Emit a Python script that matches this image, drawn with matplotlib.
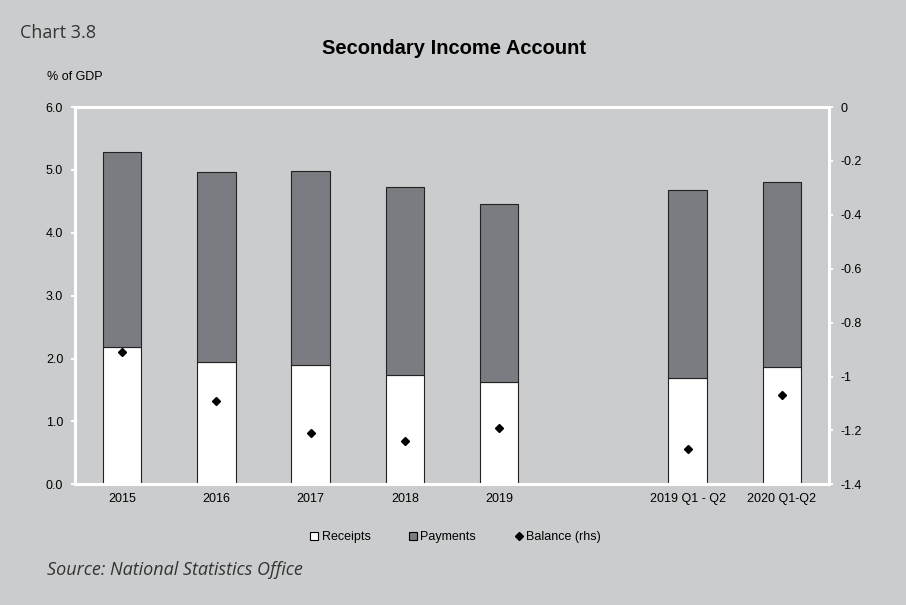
import matplotlib
matplotlib.use("Agg")
import matplotlib.pyplot as plt
from matplotlib.lines import Line2D
import numpy as np

categories = ["2015", "2016", "2017", "2018", "2019", "", "2019 Q1 - Q2", "2020 Q1-Q2"]
receipts = [2.18, 1.94, 1.89, 1.74, 1.62, None, 1.69, 1.87]
payments = [3.10, 3.02, 3.10, 2.98, 2.83, None, 2.99, 2.94]
balance = [-0.91, -1.09, -1.21, -1.24, -1.19, None, -1.27, -1.07]

left_ticks = [0.0, 1.0, 2.0, 3.0, 4.0, 5.0, 6.0]
right_ticks = [0, -0.2, -0.4, -0.6, -0.8, -1, -1.2, -1.4]

BG = "#cbcccd"
PAY = "#7b7c81"
plt.rcParams['font.family'] = ['Liberation Sans', 'DejaVu Sans']

fig = plt.figure(figsize=(9.06, 6.05), dpi=100, facecolor=BG)
ax = fig.add_axes([75/906, 1-484.3/605, (829-75)/906, (484.3-107)/605])
ax.set_facecolor(BG)

idx = [i for i, r in enumerate(receipts) if r is not None]
x = np.array(idx)
rec = np.array([receipts[i] for i in idx])
pay = np.array([payments[i] for i in idx])
bal = np.array([balance[i] for i in idx])

w = 0.41
ax.bar(x, rec, w, color="white", edgecolor="#222222", linewidth=0.8, zorder=2)
ax.bar(x, pay, w, bottom=rec, color=PAY, edgecolor="#222222", linewidth=0.8, zorder=2)

ax.set_xlim(-0.5, len(categories) - 0.5)
ax.set_ylim(0, 6)
ax.set_yticks(left_ticks)
ax.set_yticklabels([f"{t:.1f}" for t in left_ticks])
ax.set_xticks(range(len(categories)))
ax.set_xticklabels(categories)
ax.tick_params(axis='x', length=0, labelsize=9, pad=6.5, colors="#000000")
ax.tick_params(axis='y', length=3, width=1.5, color="white", labelsize=9, pad=5.5, labelcolor="#000000")
for s in ax.spines.values():
    s.set_color("white")
    s.set_linewidth(2.2)

ax2 = ax.twinx()
ax2.set_ylim(-1.4, 0)
ax2.set_yticks(right_ticks)
ax2.set_yticklabels([f"{t:g}" for t in right_ticks])
ax2.tick_params(axis='y', length=3, width=1.5, color="white", labelsize=9, pad=5, labelcolor="#000000")
for s in ax2.spines.values():
    s.set_visible(False)
ax2.plot(x, bal, linestyle="none", marker="D", markersize=4.5, color="black", zorder=3)

fig.text(20/906, 1-33/605, "Chart 3.8", fontsize=13, color="#333333", va="center", ha="left",
         family=["Open Sans", "DejaVu Sans"])
fig.text(454/906, 1-49/605, "Secondary Income Account", fontsize=14.5, fontweight="bold",
         ha="center", va="center")
fig.text(47/906, 1-77/605, "% of GDP", fontsize=9, ha="left", va="center")
fig.text(47/906, 1-570/605, "Source: National Statistics Office", fontsize=13, style="italic",
         color="#333333", ha="left", va="center", family=["Open Sans", "DejaVu Sans"])

handles = [
    Line2D([], [], linestyle="none", marker="s", markersize=6, markerfacecolor="white",
           markeredgecolor="black", markeredgewidth=0.8),
    Line2D([], [], linestyle="none", marker="s", markersize=6, markerfacecolor=PAY,
           markeredgecolor="black", markeredgewidth=0.8),
    Line2D([], [], linestyle="none", marker="D", markersize=4.5, color="black"),
]
fig.legend(handles, ["Receipts", "Payments", "Balance (rhs)"], loc="center",
           bbox_to_anchor=(455/906, 1-537/605), ncol=3, frameon=False, fontsize=9,
           handletextpad=0.2, columnspacing=3.0, handlelength=0.8)

fig.savefig("out.png", dpi=100, facecolor=BG)
